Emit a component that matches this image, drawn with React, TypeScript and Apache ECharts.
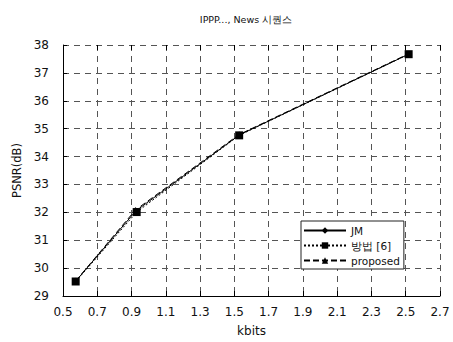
import React, { useEffect, useRef } from "react";
import * as echarts from "echarts";

const titleText = "IPPP..., News 시퀀스";
const seriesNames = ["JM", "방법 [6]", "proposed"];
const jmData = [
  [0.574, 29.53],
  [0.925, 32.05],
  [1.528, 34.77],
  [2.517, 37.67],
];
const refData = [
  [0.574, 29.52],
  [0.93, 32.01],
  [1.528, 34.76],
  [2.517, 37.67],
];
const propData = [
  [0.574, 29.54],
  [0.922, 32.08],
  [1.525, 34.78],
  [2.515, 37.68],
];

const FONT = "DejaVu Sans";

export default function App() {
  const ref = useRef<HTMLDivElement>(null);
  useEffect(() => {
    if (!ref.current) return;
    const chart = echarts.init(ref.current, undefined, { renderer: "svg" });
    const common = {
      type: "line",
      itemStyle: { color: "#000" },
      emphasis: { disabled: true },
    };
    chart.setOption({
      animation: false,
      backgroundColor: "#fff",
      title: {
        text: titleText,
        left: 241,
        top: 9,
        textAlign: "center",
        textStyle: { fontFamily: FONT, fontSize: 9.5, fontWeight: "normal", color: "#111" },
      },
      legend: {
        orient: "vertical",
        left: 301,
        top: 221,
        itemWidth: 42,
        itemHeight: 8,
        itemGap: 4,
        padding: [4, 4, 3, 2],
        borderColor: "#222",
        borderWidth: 1,
        backgroundColor: "#fff",
        textStyle: { fontFamily: FONT, fontSize: 10.5, color: "#111" },
        data: seriesNames,
      },
      grid: { left: 63, right: 13, top: 45, bottom: 45 },
      xAxis: [
        {
          type: "value",
          min: 0.5,
          max: 2.7,
          interval: 0.2,
          name: "kbits",
          nameLocation: "middle",
          nameGap: 29,
          nameTextStyle: { fontFamily: FONT, fontSize: 12, color: "#111" },
          axisLine: { lineStyle: { color: "#000", width: 1 } },
          axisTick: { inside: true, length: 5, lineStyle: { color: "#000" } },
          axisLabel: {
            fontFamily: FONT,
            fontSize: 12,
            color: "#111",
            margin: 10,
            formatter: (v: number) => v.toFixed(1),
          },
          splitLine: { show: true, lineStyle: { color: "#555", type: [6, 5], width: 1 } },
        },
        {
          type: "value",
          position: "top",
          min: 0.5,
          max: 2.7,
          interval: 0.2,
          axisLine: { show: false },
          axisTick: { show: true, inside: true, length: 5, lineStyle: { color: "#000" } },
          axisLabel: { show: false },
          splitLine: { show: false },
        },
      ],
      yAxis: {
        type: "value",
        min: 29,
        max: 38,
        interval: 1,
        name: "PSNR(dB)",
        nameLocation: "middle",
        nameGap: 39,
        nameTextStyle: { fontFamily: FONT, fontSize: 11.5, color: "#111" },
        axisLine: { show: true, lineStyle: { color: "#000", width: 1 } },
        axisTick: { show: true, inside: true, length: 4, lineStyle: { color: "#000" } },
        axisLabel: { fontFamily: FONT, fontSize: 12, color: "#111", margin: 14 },
        splitLine: { show: true, lineStyle: { color: "#555", type: [6, 5], width: 1 } },
      },
      series: [
        {
          ...common,
          name: seriesNames[0],
          data: jmData,
          symbol: "diamond",
          symbolSize: 7,
          lineStyle: { color: "#000", width: 1, type: "solid" },
        },
        {
          ...common,
          name: seriesNames[1],
          data: refData,
          symbol: "rect",
          symbolSize: 8,
          lineStyle: { color: "#000", width: 1, type: [2, 2] },
        },
        {
          ...common,
          name: seriesNames[2],
          data: propData,
          symbol: "triangle",
          symbolSize: 6,
          lineStyle: { color: "#000", width: 1, type: [6, 3] },
        },
      ],
    });
    return () => chart.dispose();
  }, []);
  return <div ref={ref} style={{ width: 453, height: 342, position: "absolute", left: 0, top: 0 }} />;
}
